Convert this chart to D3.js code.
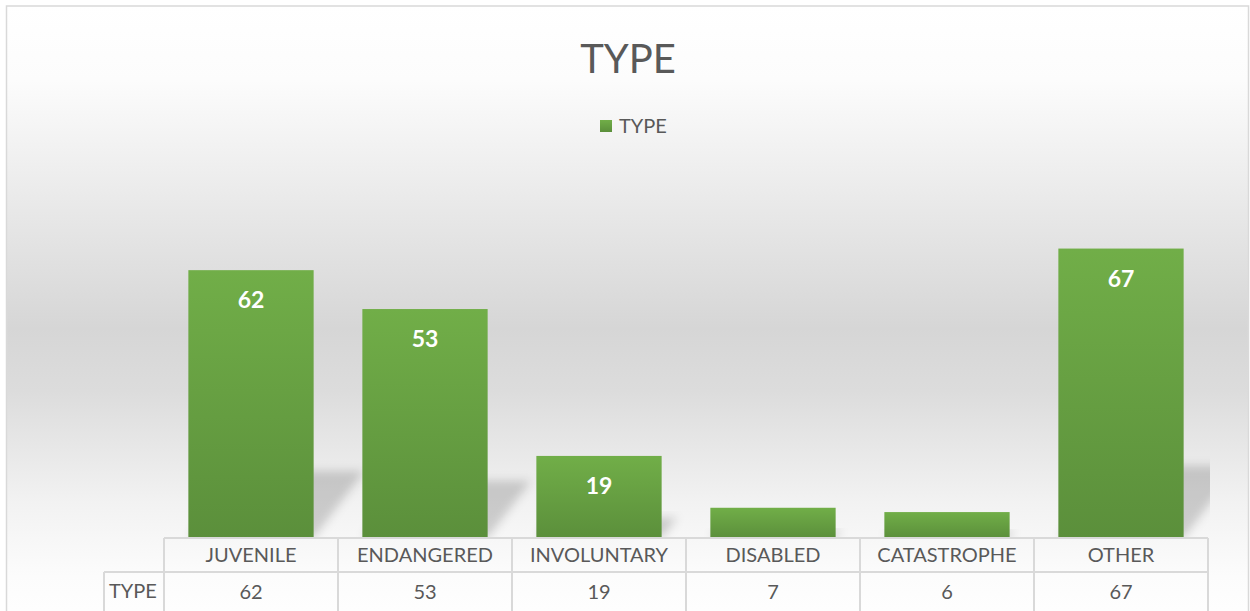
<!DOCTYPE html>
<html>
<head>
<meta charset="utf-8">
<script src="https://cdn.jsdelivr.net/npm/d3@7"></script>
<style>
  body { margin: 0; background: #fff; }
  text { font-family: Lato, "Open Sans", sans-serif; }
</style>
</head>
<body>
<div id="chart"></div>
<script>
var categories = ["JUVENILE", "ENDANGERED", "INVOLUNTARY", "DISABLED", "CATASTROPHE", "OTHER"];
var values = [62, 53, 19, 7, 6, 67];
var seriesName = "TYPE";
var chartTitle = "TYPE";

var width = 1250;
var height = 611;
var left = 164, right = 1208, base = 538, rowH = 34;

var svg = d3.select("#chart").append("svg")
  .attr("width", width)
  .attr("height", height);

var defs = svg.append("defs");

// chart background: white -> grey -> white
var bg = defs.append("linearGradient").attr("id", "bg")
  .attr("x1", 0).attr("y1", 0).attr("x2", 0).attr("y2", 1);
bg.append("stop").attr("offset", "0").attr("stop-color", "#ffffff");
bg.append("stop").attr("offset", "0.12").attr("stop-color", "#fcfcfc");
bg.append("stop").attr("offset", "0.52").attr("stop-color", "#d6d6d6");
bg.append("stop").attr("offset", "0.62").attr("stop-color", "#dcdcdc");
bg.append("stop").attr("offset", "0.80").attr("stop-color", "#f2f2f2");
bg.append("stop").attr("offset", "0.92").attr("stop-color", "#fcfcfc");
bg.append("stop").attr("offset", "1").attr("stop-color", "#ffffff");

var barGrad = defs.append("linearGradient").attr("id", "barGrad")
  .attr("x1", 0).attr("y1", 0).attr("x2", 0).attr("y2", 1);
barGrad.append("stop").attr("offset", "0").attr("stop-color", "#71ae48");
barGrad.append("stop").attr("offset", "1").attr("stop-color", "#5b8f3b");

defs.append("filter").attr("id", "blur")
  .attr("x", "-30%").attr("y", "-30%").attr("width", "160%").attr("height", "160%")
  .append("feGaussianBlur").attr("stdDeviation", 5);

defs.append("clipPath").attr("id", "plotClip")
  .append("rect").attr("x", left).attr("y", 0)
  .attr("width", right - left + 2).attr("height", base);

svg.append("rect")
  .attr("x", 6.5).attr("y", 6)
  .attr("width", 1242).attr("height", 620)
  .attr("fill", "url(#bg)")
  .attr("stroke", "#d9d9d9")
  .attr("stroke-width", 1.5);

// title
svg.append("text")
  .attr("x", 628).attr("y", 73)
  .attr("text-anchor", "middle")
  .attr("fill", "#595959")
  .style("font-size", "40px")
  .text(chartTitle);

// legend
svg.append("rect")
  .attr("x", 600).attr("y", 120).attr("width", 12).attr("height", 12)
  .attr("fill", "url(#barGrad)");
svg.append("text")
  .attr("x", 619).attr("y", 133)
  .attr("fill", "#595959")
  .style("font-size", "20px")
  .text(seriesName);

var xScale = d3.scaleBand()
  .domain(categories)
  .range([left, right])
  .paddingInner(0.28)
  .paddingOuter(0.14);

var yScale = d3.scaleLinear()
  .domain([0, 80])
  .range([base, base - 80 * 4.32]);

var data = categories.map(function(c, i) { return { cat: c, val: values[i] }; });

// perspective shadows
svg.append("g").attr("clip-path", "url(#plotClip)")
  .selectAll("path")
  .data(data)
  .enter()
  .append("path")
    .attr("d", function(d) {
      var x0 = xScale(d.cat), x1 = x0 + xScale.bandwidth();
      var h = base - yScale(d.val);
      var hs = h * 0.25, dx = h * 0.19;
      return "M" + x0 + "," + base + "L" + x1 + "," + base +
        "L" + (x1 + dx) + "," + (base - hs) + "L" + (x0 + dx) + "," + (base - hs) + "Z";
    })
    .attr("fill", "rgba(0,0,0,0.17)")
    .attr("filter", "url(#blur)");

svg.append("g").selectAll("rect")
  .data(data)
  .enter()
  .append("rect")
    .attr("x", function(d) { return xScale(d.cat); })
    .attr("y", function(d) { return yScale(d.val); })
    .attr("width", xScale.bandwidth())
    .attr("height", function(d) { return base - yScale(d.val); })
    .attr("fill", "url(#barGrad)");

// data labels (only where the bar is tall enough)
svg.append("g").selectAll("text")
  .data(data.filter(function(d) { return base - yScale(d.val) > 50; }))
  .enter()
  .append("text")
    .attr("x", function(d) { return xScale(d.cat) + xScale.bandwidth() / 2; })
    .attr("y", function(d) { return yScale(d.val) + 38; })
    .attr("text-anchor", "middle")
    .attr("fill", "#ffffff")
    .style("font-size", "23px")
    .style("font-weight", "bold")
    .text(function(d) { return d.val; });

// data table
var cellX = d3.scaleBand().domain(categories).range([left, right]);
var table = svg.append("g")
  .attr("stroke", "#d9d9d9")
  .attr("stroke-width", 2);

table.append("line")
  .attr("x1", left).attr("x2", right).attr("y1", base).attr("y2", base);
table.append("line")
  .attr("x1", 104).attr("x2", right).attr("y1", base + rowH).attr("y2", base + rowH);
table.append("line")
  .attr("x1", 104).attr("x2", 104).attr("y1", base + rowH).attr("y2", height + 5);
table.selectAll(".vline")
  .data(categories.concat(["end"]))
  .enter()
  .append("line")
    .attr("x1", function(d, i) { return left + i * cellX.bandwidth(); })
    .attr("x2", function(d, i) { return left + i * cellX.bandwidth(); })
    .attr("y1", base).attr("y2", height + 5);

svg.append("g").selectAll("text")
  .data(categories)
  .enter()
  .append("text")
    .attr("x", function(d) { return cellX(d) + cellX.bandwidth() / 2; })
    .attr("y", base + 24)
    .attr("text-anchor", "middle")
    .attr("fill", "#595959")
    .style("font-size", "20px")
    .text(function(d) { return d; });

svg.append("g").selectAll("text")
  .data(data)
  .enter()
  .append("text")
    .attr("x", function(d) { return cellX(d.cat) + cellX.bandwidth() / 2; })
    .attr("y", base + rowH + 27)
    .attr("text-anchor", "middle")
    .attr("fill", "#595959")
    .style("font-size", "20px")
    .text(function(d) { return d.val; });

svg.append("text")
  .attr("x", 109).attr("y", base + rowH + 26)
  .attr("fill", "#595959")
  .style("font-size", "20px")
  .text(seriesName);
</script>
</body>
</html>
